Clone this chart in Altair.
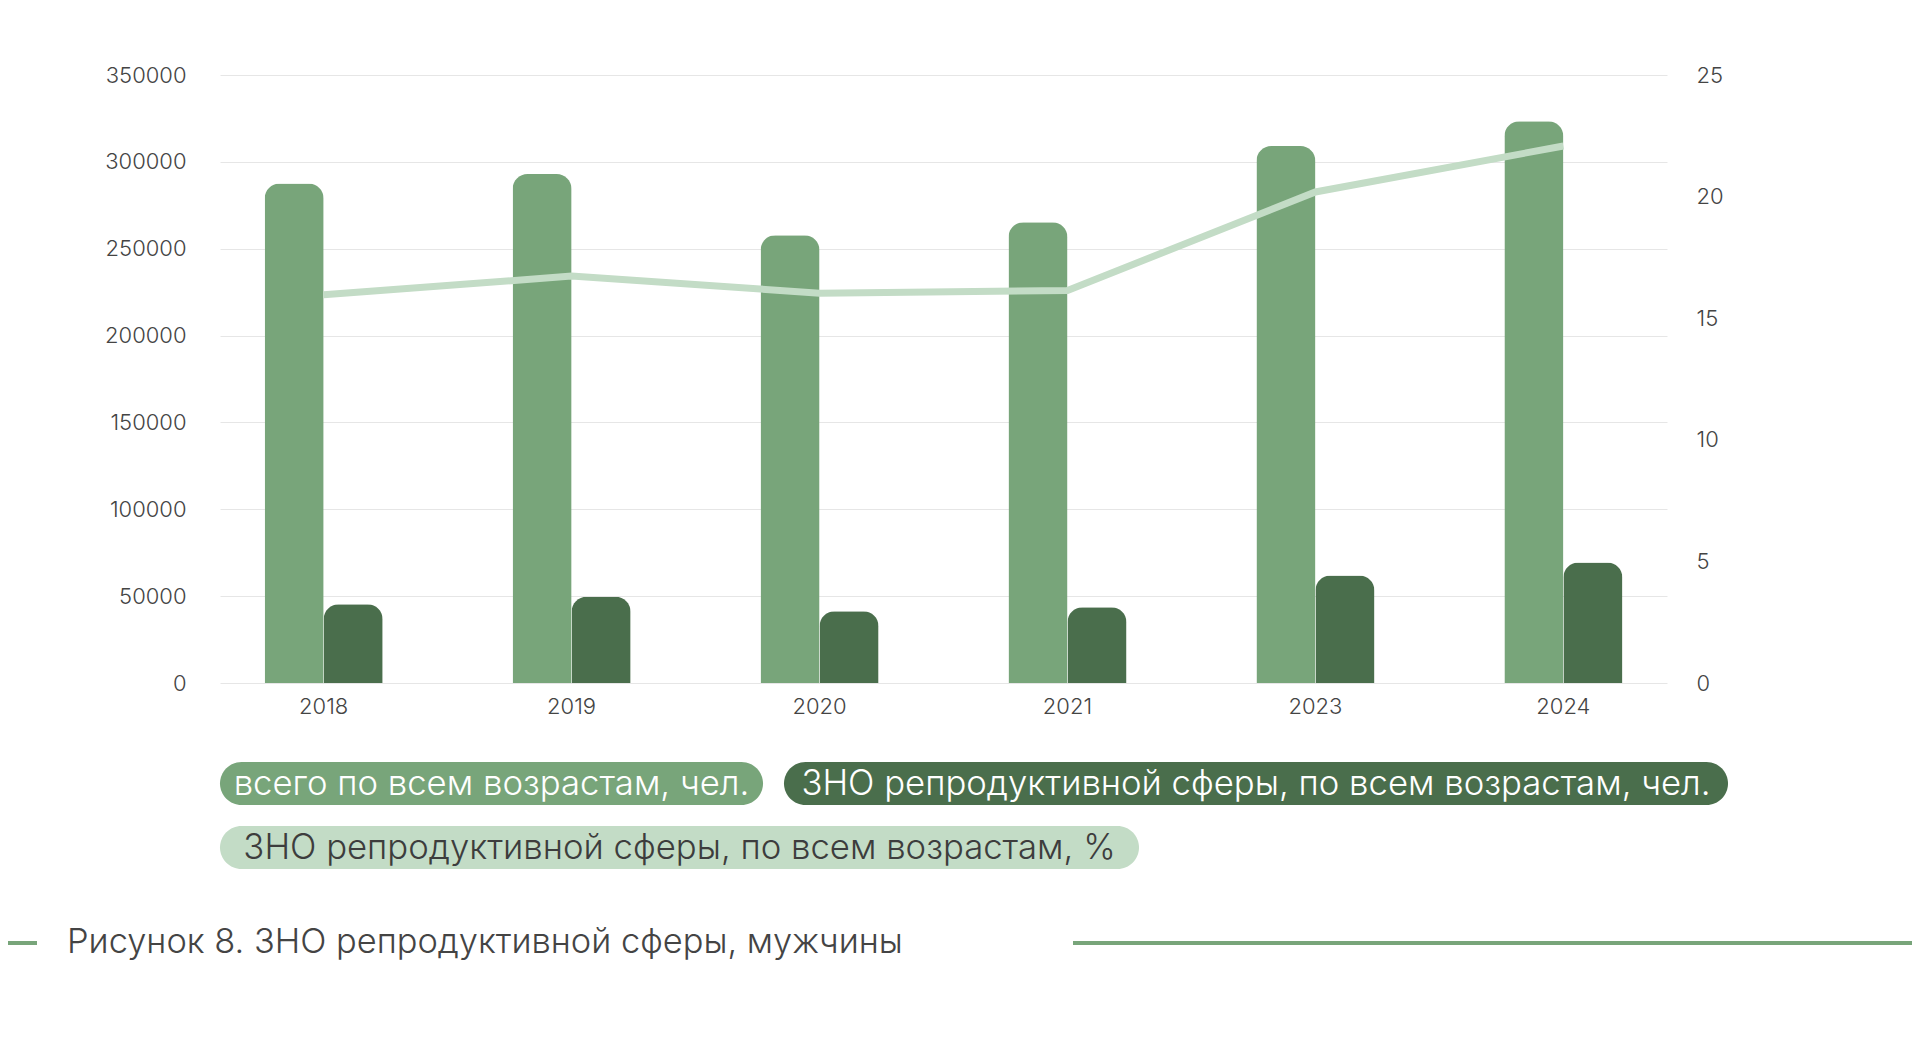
import altair as alt
import pandas as pd

years = ["2018", "2019", "2020", "2021", "2023", "2024"]
total_all = [287500, 293000, 257700, 265300, 309100, 323400]
repro_all = [45400, 49700, 41300, 43600, 61900, 69300]
repro_pct = [15.96, 16.73, 16.03, 16.14, 20.19, 22.08]

series_names = [
    "всего по всем возрастам, чел.",
    "ЗНО репродуктивной сферы, по всем возрастам, чел.",
    "ЗНО репродуктивной сферы, по всем возрастам, %",
]
series_keys = ["total", "repro", "pct"]
series_colors = ["#78a57a", "#4a6e4c", "#c3dcc6"]
caption = "Рисунок 8. ЗНО репродуктивной сферы, мужчины"

left_ticks = [0, 50000, 100000, 150000, 200000, 250000, 300000, 350000]
right_ticks = [0, 5, 10, 15, 20, 25]

FONT = "Inter"
TXT = "#444444"

df = pd.DataFrame({
    "year": years,
    "total": total_all,
    "repro": repro_all,
    "pct": repro_pct,
})

W, H = 1447, 608

xenc = alt.X(
    "year:N", sort=years, title=None,
    scale=alt.Scale(paddingInner=0.524, paddingOuter=0.18),
    axis=alt.Axis(labelFont=FONT, labelFontSize=22, labelFontWeight=300,
                  labelColor=TXT, labelAngle=0,
                  ticks=False, domain=False, labelPadding=13, grid=False),
)

bars = alt.Chart(df).transform_fold(
    ["total", "repro"], as_=["series", "value"]
).mark_bar(cornerRadiusTopLeft=15, cornerRadiusTopRight=15).encode(
    x=xenc,
    xOffset=alt.XOffset("series:N", sort=["total", "repro"],
                        scale=alt.Scale(paddingInner=0, paddingOuter=0)),
    y=alt.Y("value:Q", title=None,
            scale=alt.Scale(domain=[0, 350000], nice=False),
            axis=alt.Axis(values=left_ticks, format="d", orient="left",
                          labelFont=FONT, labelFontSize=22, labelFontWeight=300,
                          labelColor=TXT,
                          ticks=False, domain=False, labelPadding=34,
                          grid=True, gridColor="#e6e6e6", gridWidth=1)),
    color=alt.Color("series:N", legend=None,
                    scale=alt.Scale(domain=["total", "repro"], range=series_colors[:2])),
)

line = alt.Chart(df).mark_line(strokeWidth=7, color=series_colors[2], strokeCap="butt").encode(
    x=alt.X("year:N", sort=years),
    y=alt.Y("pct:Q", title=None,
            scale=alt.Scale(domain=[0, 25], nice=False),
            axis=alt.Axis(values=right_ticks, orient="right",
                          labelFont=FONT, labelFontSize=22, labelFontWeight=300,
                          labelColor=TXT,
                          ticks=False, domain=False, labelPadding=29, grid=False)),
)


def pill(i, x0, x1, y0, y1, text_color):
    d = alt.Chart(pd.DataFrame({"label": [series_names[i]]}))
    r = d.mark_rect(color=series_colors[i], cornerRadius=21.5).encode(
        x=alt.value(x0), x2=alt.value(x1), y=alt.value(y0), y2=alt.value(y1))
    t = d.mark_text(font=FONT, fontSize=34.7, fontWeight=300, color=text_color,
                    align="center", baseline="middle").encode(
        x=alt.value((x0 + x1) / 2), y=alt.value((y0 + y1) / 2 + 1), text="label:N")
    return [r, t]


deco = []
deco += pill(0, 0, 543, 687, 730, "#ffffff")
deco += pill(1, 564, 1508, 687, 730, "#ffffff")
deco += pill(2, 0, 919, 751, 794, "#3d3d3d")

cap_df = alt.Chart(pd.DataFrame({"label": [caption]}))
cap_text = cap_df.mark_text(font=FONT, fontSize=34.4, fontWeight=300, color=TXT,
                            align="left", baseline="middle").encode(
    x=alt.value(-153), y=alt.value(868), text="label:N")
rule_l = cap_df.mark_rule(color=series_colors[0], strokeWidth=4).encode(
    x=alt.value(-212), x2=alt.value(-183), y=alt.value(868))
rule_r = cap_df.mark_rule(color=series_colors[0], strokeWidth=4).encode(
    x=alt.value(853), x2=alt.value(1692), y=alt.value(868))

main = alt.layer(bars, line).resolve_scale(y="independent")

chart = alt.layer(main, *deco, cap_text, rule_l, rule_r).properties(
    width=W, height=H,
    background="white",
    autosize=alt.AutoSizeParams(type="none"),
    padding={"left": 212, "top": 67, "right": 245, "bottom": 360},
).configure_view(stroke=None)

chart.save("out.html", embed_options={"renderer": "svg", "actions": False})
